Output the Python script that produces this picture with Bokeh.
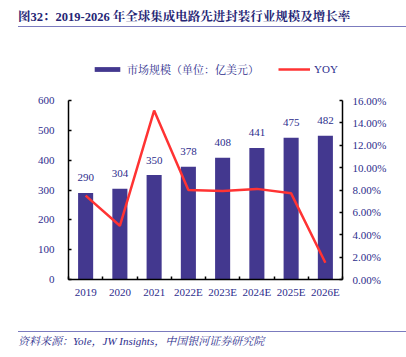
from bokeh.plotting import figure
from bokeh.layouts import column
from bokeh.models import (Range1d, LinearAxis, FixedTicker, NumeralTickFormatter,
                          ColumnDataSource, LabelSet, Legend, LegendItem, Div)
from bokeh.embed import file_html
from bokeh.resources import INLINE

categories = ["2019", "2020", "2021", "2022E", "2023E", "2024E", "2025E", "2026E"]
market_size = [290, 304, 350, 378, 408, 441, 475, 482]
yoy = [0.075, 0.048, 0.151, 0.080, 0.079, 0.081, 0.077, 0.015]
left_ticks = [0, 100, 200, 300, 400, 500, 600]
right_ticks = [0.0, 0.02, 0.04, 0.06, 0.08, 0.10, 0.12, 0.14, 0.16]
left_max = 600
right_max = 0.16

title_text = "图32：2019-2026 年全球集成电路先进封装行业规模及增长率"
footer_text = "资料来源：Yole，JW Insights，中国银河证券研究院"
bar_name = "市场规模（单位：亿美元）"
line_name = "YOY"

NAVY = "#2D2D8C"
BAR = "#43388F"
RED = "#FF3333"
RULE = "#7B7BBE"
FONT = "'Liberation Serif', 'Noto Serif CJK SC', 'Noto Sans CJK SC', serif"
W = 406

# ---- header ----
header = Div(text=(f'<div style="margin:9px 0 0 18px;width:388px;padding-bottom:1px;'
                   f'border-bottom:1px solid {RULE};font-family:{FONT};font-size:12.5px;'
                   f'font-weight:bold;color:#262675;line-height:16px;white-space:nowrap">'
                   f'{title_text}</div>'),
             width=W, height=33, margin=(0, 0, 0, 0))

# ---- main chart ----
H = 289
top_b, bot_b = 27, 43
frame_h = H - top_b - bot_b
axis_h = 179  # pixel height of the 0..600 axis inside the frame
scale = frame_h / axis_h

xs = [i + 0.5 for i in range(len(categories))]
src = ColumnDataSource(dict(x=xs, v=market_size, y=yoy, lab=[str(v) for v in market_size]))

p = figure(width=W, height=H, output_backend="svg", toolbar_location=None,
           x_range=Range1d(0, len(categories)), y_range=Range1d(0, left_max * scale),
           min_border_left=68, min_border_right=64, min_border_top=top_b, min_border_bottom=bot_b,
           x_axis_location=None, y_axis_location=None)
p.outline_line_color = None
p.xgrid.visible = False
p.ygrid.visible = False
p.extra_y_ranges = {"yoy": Range1d(0, right_max * scale)}


def style(ax, standoff):
    ax.axis_line_color = "black"
    ax.axis_line_width = 1.5
    ax.major_tick_line_color = "black"
    ax.major_tick_line_width = 1.5
    ax.major_tick_in = 3
    ax.major_tick_out = 0
    ax.minor_tick_in = 0
    ax.minor_tick_out = 0
    ax.major_label_standoff = standoff
    ax.major_label_text_font = FONT
    ax.major_label_text_font_size = "11px"
    ax.major_label_text_color = NAVY


yl = LinearAxis(ticker=FixedTicker(ticks=left_ticks), bounds=(0, left_max))
style(yl, 14)
p.add_layout(yl, "left")

yr = LinearAxis(y_range_name="yoy", ticker=FixedTicker(ticks=right_ticks),
                formatter=NumeralTickFormatter(format="0.00%"), bounds=(0, right_max))
style(yr, 10)
p.add_layout(yr, "right")

xa = LinearAxis(ticker=FixedTicker(ticks=xs, minor_ticks=list(range(len(categories) + 1))),
                major_label_overrides={x: c for x, c in zip(xs, categories)})
style(xa, 6)
xa.major_tick_in = 0
xa.minor_tick_in = 3
xa.minor_tick_line_color = "black"
xa.minor_tick_line_width = 1.5
p.add_layout(xa, "below")

bars = p.vbar(x="x", top="v", width=0.44, source=src, fill_color=BAR, line_color=None)
line = p.line(x="x", y="y", source=src, y_range_name="yoy", line_color=RED, line_width=2.5)

p.add_layout(LabelSet(x="x", y="v", text="lab", source=src, text_align="center",
                      text_baseline="middle", y_offset=15, text_font_size="11px",
                      text_font=FONT, text_color=NAVY))

legend = Legend(items=[LegendItem(label=bar_name, renderers=[bars]),
                       LegendItem(label=line_name, renderers=[line])],
                orientation="horizontal", location=(23, 202),
                border_line_color=None, background_fill_alpha=0,
                padding=0, margin=0, spacing=19, label_standoff=4,
                glyph_width=32, glyph_height=6, label_height=12,
                label_text_font=FONT, label_text_font_size="11px", label_text_color=NAVY)
p.add_layout(legend, "center")

# ---- footer ----
footer = Div(text=(f'<div style="margin:9px 0 0 18px;width:388px;padding-top:1px;'
                   f'border-top:1px solid {RULE};font-family:{FONT};font-size:11px;'
                   f'font-style:italic;color:{NAVY};line-height:16px;white-space:nowrap">'
                   f'{footer_text}</div>'),
             width=W, height=35, margin=(0, 0, 0, 0))

layout = column(header, p, footer, spacing=0)
open("out.html", "w").write(file_html(layout, INLINE))
